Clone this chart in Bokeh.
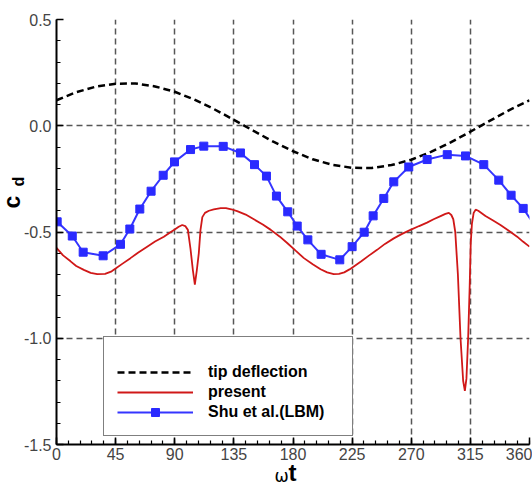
from bokeh.plotting import figure
from bokeh.models import FixedTicker, Legend, LegendItem, Range1d, NumeralTickFormatter, Title
from bokeh.embed import file_html
from bokeh.resources import INLINE

# ---------------- data ----------------
tip_x = [0, 15, 30, 45, 60, 75, 90, 105, 120, 135, 150, 165, 180,
         195, 210, 225, 240, 255, 270, 285, 300, 315, 330, 345, 360]
tip_y = [0.120, 0.158, 0.184, 0.198, 0.199, 0.185, 0.160, 0.123, 0.078, 0.028,
         -0.024, -0.075, -0.120, -0.158, -0.184, -0.198, -0.199, -0.185, -0.160,
         -0.123, -0.078, -0.028, 0.024, 0.075, 0.120]

present_x = [0, 5, 10.7, 15, 20.8, 26, 31, 37, 42, 45, 50, 56.3, 62, 69, 75, 81.7, 87,
             90, 93, 95.7, 98, 100, 102, 103.8, 105.3, 106.8, 108.3, 109.6, 111, 113,
             116, 119.7, 125, 129, 133, 137.5, 144, 150.2, 157, 163.1, 170, 175.8, 182,
             188.3, 195, 201, 206, 211, 215, 219, 223, 226.3, 232, 238, 244, 250, 256.7,
             263, 269.4, 276, 282, 287, 292.3, 296, 298.6, 300.5, 302, 303.5, 305.5,
             307.5, 309.5, 310.8, 312, 313.3, 314.5, 315.3, 316.2, 317.5, 319, 321,
             326.5, 332, 337.9, 344, 350.6, 355, 360]
present_y = [-0.575, -0.61, -0.638, -0.66, -0.678, -0.692, -0.698, -0.697, -0.685, -0.672,
             -0.65, -0.623, -0.598, -0.569, -0.545, -0.522, -0.50,
             -0.488, -0.475, -0.467, -0.472, -0.49, -0.58, -0.68, -0.748, -0.68, -0.60,
             -0.49, -0.43, -0.41,
             -0.40, -0.394, -0.388, -0.388, -0.393, -0.402, -0.418, -0.44, -0.465, -0.49,
             -0.522, -0.553, -0.588,
             -0.623, -0.652, -0.675, -0.69, -0.698, -0.697, -0.69, -0.676, -0.662, -0.638,
             -0.61, -0.584, -0.556, -0.53,
             -0.509, -0.49, -0.472, -0.456, -0.44, -0.425, -0.415, -0.41, -0.42, -0.44,
             -0.50, -0.70,
             -1.0, -1.2, -1.248, -1.19, -1.0, -0.75, -0.55, -0.46, -0.41, -0.395, -0.40,
             -0.425, -0.445, -0.467, -0.493, -0.522, -0.545, -0.569]

lbm_x = [0.5, 12, 20.3, 35.5, 48.7, 55.8, 63.4, 72, 81.2, 89.8, 102, 112.1, 126.9, 140,
         150.7, 159.8, 167.4, 176, 183.2, 191.3, 201.4, 215.6, 225, 234.2, 241, 249.1,
         256.7, 268.1, 282.1, 297.4, 311.3, 325.2, 336.6, 346, 355.2, 364]
lbm_y = [-0.452, -0.519, -0.595, -0.612, -0.558, -0.486, -0.392, -0.308, -0.233, -0.17,
         -0.112, -0.096, -0.097, -0.128, -0.183, -0.237, -0.331, -0.405, -0.472, -0.537,
         -0.605, -0.631, -0.569, -0.501, -0.424, -0.342, -0.264, -0.194, -0.159, -0.136,
         -0.142, -0.183, -0.256, -0.327, -0.389, -0.47]

x_ticks = [0, 45, 90, 135, 180, 225, 270, 315, 360]
x_minor = list(range(0, 361, 9))
y_ticks = [-1.5, -1.0, -0.5, 0.0, 0.5]
y_minor = [round(-1.5 + 0.1 * i, 2) for i in range(21)]

legend_labels = ["tip deflection", "present", "Shu et al.(LBM)"]

# ---------------- figure ----------------
p = figure(width=532, height=485, x_range=Range1d(0, 360), y_range=Range1d(-1.5, 0.5),
           output_backend="svg", toolbar_location=None,
           min_border_left=56, min_border_right=3, min_border_top=19, min_border_bottom=39)
p.outline_line_color = None
p.background_fill_color = "white"
p.border_fill_color = "white"

p.xaxis.ticker = FixedTicker(ticks=x_ticks, minor_ticks=x_minor)
p.yaxis.ticker = FixedTicker(ticks=y_ticks, minor_ticks=y_minor)
p.yaxis.formatter = NumeralTickFormatter(format="0.0")

for ax in (p.xaxis[0], p.yaxis[0]):
    ax.axis_line_width = 2
    ax.axis_line_color = "black"
    ax.major_tick_in = 7
    ax.major_tick_out = 0
    ax.minor_tick_in = 4
    ax.minor_tick_out = 0
    ax.major_tick_line_width = 1.5
    ax.minor_tick_line_width = 1.2
    ax.major_tick_line_color = "black"
    ax.minor_tick_line_color = "black"
    ax.major_label_text_font = "Liberation Sans"
    ax.major_label_text_font_size = "16px"
    ax.major_label_text_color = "#444444"
p.yaxis.major_label_standoff = 5
p.xaxis.major_label_standoff = 3

for g in (p.xgrid[0], p.ygrid[0]):
    g.grid_line_color = "#444444"
    g.grid_line_width = 1.5
    g.grid_line_dash = "6 4"
    g.grid_line_alpha = 0.9

r_tip = p.line(tip_x, tip_y, line_color="black", line_width=2.5, line_dash="7 4")
r_pres = p.line(present_x, present_y, line_color="#d01818", line_width=1.8)
r_lbm_line = p.line(lbm_x, lbm_y, line_color="#3535ff", line_width=2)
r_lbm_pts = p.scatter(lbm_x, lbm_y, marker="square", size=8, fill_color="#2a2aff",
                      line_color="#2a2aff")

legend = Legend(items=[LegendItem(label=legend_labels[0], renderers=[r_tip]),
                       LegendItem(label=legend_labels[1], renderers=[r_pres]),
                       LegendItem(label=legend_labels[2], renderers=[r_lbm_line, r_lbm_pts])],
                location=(47, 8), glyph_width=76, glyph_height=20, label_height=20,
                label_width=131, label_standoff=15, padding=13, spacing=0, margin=0,
                border_line_color="black", border_line_width=1.5,
                background_fill_color="white", background_fill_alpha=1.0,
                label_text_font="Liberation Sans", label_text_font_style="bold",
                label_text_font_size="16px", label_text_color="black",
                title=" ", title_text_font_size="5px", title_standoff=6)
p.add_layout(legend)

# axis titles: c_d (left, rotated) and ωt (below)
p.add_layout(Title(text="d", align="left", offset=258, vertical_align="bottom", standoff=-12.4,
                   text_font="Liberation Sans", text_font_size="16px", text_font_style="bold",
                   text_color="black"), "left")
p.add_layout(Title(text="c", align="left", offset=236, vertical_align="top", standoff=-29.8,
                   text_font="Liberation Sans", text_font_size="23px", text_font_style="bold",
                   text_color="black"), "left")
p.add_layout(Title(text="t", align="left", offset=232, vertical_align="top", standoff=-6.2,
                   text_font="Liberation Sans", text_font_size="24px", text_font_style="bold",
                   text_color="black"), "below")
p.add_layout(Title(text="ω", align="left", offset=218, vertical_align="top", standoff=-39.6,
                   text_font="DejaVu Sans", text_font_size="17px", text_font_style="normal",
                   text_color="black"), "below")

open("out.html", "w").write(file_html(p, INLINE))
